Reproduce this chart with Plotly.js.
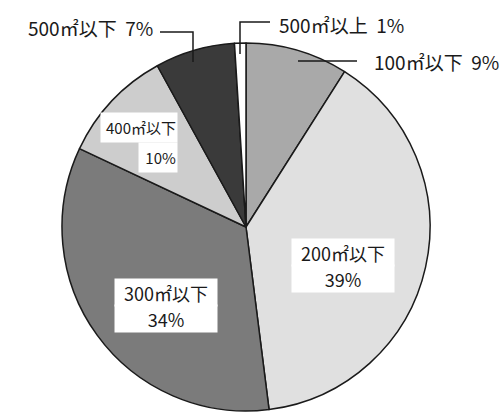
<!DOCTYPE html>
<html>
<head>
<meta charset="utf-8">
<script src="https://cdn.plot.ly/plotly-3.0.1.min.js"></script>
<style>html,body{margin:0;padding:0;background:#fff;}#chart{width:503px;height:415px;}</style>
</head>
<body>
<div id="chart"></div>
<script>
// Data
var categories = ['100㎡以下', '200㎡以下', '300㎡以下', '400㎡以下', '500㎡以下', '500㎡以上'];
var shares = [9, 39, 34, 10, 7, 1];
var sliceColors = ['#a9a9a9', '#e0e0e0', '#7b7b7b', '#cdcdcd', '#3a3a3a', '#ffffff'];

var W = 503, H = 415;
function px(x){ return x / W; }
function py(y){ return 1 - y / H; }

var cx = 246, cy = 227, r = 184;

var trace = {
  type: 'pie',
  labels: categories,
  values: shares,
  sort: false,
  direction: 'clockwise',
  rotation: 0,
  textinfo: 'none',
  hoverinfo: 'label+percent',
  marker: {colors: sliceColors, line: {color: '#1a1a1a', width: 1.5}},
  domain: {x: [px(cx - r), px(cx + r)], y: [py(cy + r), py(cy - r)]},
  showlegend: false
};

var FAM = '"Noto Sans CJK JP", "Noto Sans", sans-serif';
var font = {family: FAM, size: 19, color: '#1a1a1a'};
var fontIn = {family: FAM, size: 18, color: '#1a1a1a'};
var fontSmall = {family: FAM, size: 15, color: '#1a1a1a'};

function pct(i){ return shares[i] + '%'; }

var annotations = [
  {x: px(372), y: py(62), xanchor: 'left', yanchor: 'middle', text: categories[0] + '  ' + pct(0), font: font},
  // 200 box
  {x: px(343), y: py(252), xanchor: 'center', yanchor: 'middle', text: categories[1], font: fontIn, bgcolor: '#ffffff', borderpad: 1, width: 100, height: 25, align: 'center'},
  {x: px(343), y: py(278), xanchor: 'center', yanchor: 'middle', text: pct(1), font: fontIn, bgcolor: '#ffffff', borderpad: 1, width: 100, height: 25, align: 'center'},
  // 300 box
  {x: px(166), y: py(292), xanchor: 'center', yanchor: 'middle', text: categories[2], font: fontIn, bgcolor: '#ffffff', borderpad: 1, width: 100, height: 25, align: 'center'},
  {x: px(166), y: py(318), xanchor: 'center', yanchor: 'middle', text: pct(2), font: fontIn, bgcolor: '#ffffff', borderpad: 1, width: 100, height: 25, align: 'center'},
  // 400 boxes
  {x: px(178), y: py(128), xanchor: 'right', yanchor: 'middle', text: categories[3], font: fontSmall, bgcolor: '#ffffff', borderpad: 1, width: 74, height: 27, align: 'right'},
  {x: px(178), y: py(157), xanchor: 'right', yanchor: 'middle', text: pct(3), font: fontSmall, bgcolor: '#ffffff', borderpad: 1, width: 36, height: 27, align: 'right'},
  {x: px(155), y: py(27), xanchor: 'right', yanchor: 'middle', text: categories[4] + '  ' + pct(4), font: font},
  {x: px(277), y: py(24), xanchor: 'left', yanchor: 'middle', text: categories[5] + '  ' + pct(5), font: font}
].map(function(a){ a.xref = 'paper'; a.yref = 'paper'; a.showarrow = false; return a; });

function path(pts){
  return pts.map(function(p, i){ return (i ? 'L' : 'M') + px(p[0]) + ',' + py(p[1]); }).join(' ');
}
var lineStyle = {color: '#1a1a1a', width: 1.5};
var shapes = [
  {type: 'path', xref: 'paper', yref: 'paper', path: path([[160, 32], [193, 32], [193, 62]]), line: lineStyle},
  {type: 'path', xref: 'paper', yref: 'paper', path: path([[270, 22], [240, 22], [240, 54]]), line: lineStyle},
  {type: 'path', xref: 'paper', yref: 'paper', path: path([[298, 61], [357, 61]]), line: lineStyle}
];

var layout = {
  width: W, height: H,
  margin: {l: 0, r: 0, t: 0, b: 0},
  paper_bgcolor: '#ffffff',
  plot_bgcolor: '#ffffff',
  annotations: annotations,
  shapes: shapes,
  showlegend: false
};

Plotly.newPlot('chart', [trace], layout, {displayModeBar: false, staticPlot: true});
</script>
</body>
</html>
